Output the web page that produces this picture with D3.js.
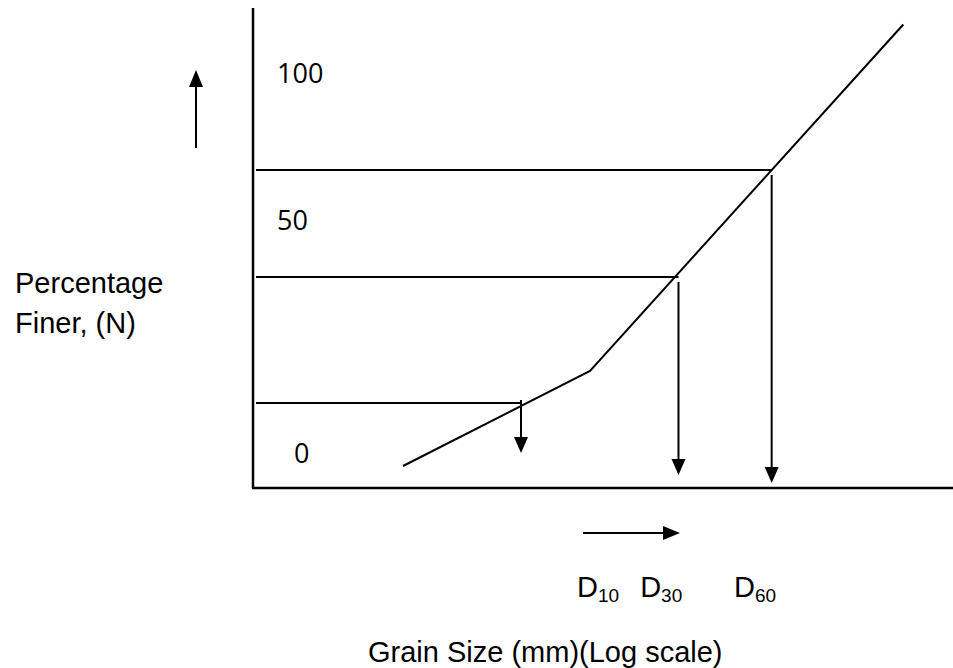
<!DOCTYPE html>
<html lang="en">
<head>
  <meta charset="UTF-8">
  <title>Grain Size Distribution Curve</title>
  <script src="https://d3js.org/d3.v7.min.js"></script>
  <style>
    body { margin: 0; background: #fff; }
    svg { display: block; }
  </style>
</head>
<body>
  <svg width="953" height="668"></svg>
  <script>
    // grading curve vertices: grain size (mm, log axis) and percent finer
    const curveSize = [0.0072, 0.0843, 5.2];
    const curveFiner = [-2.6, 15.1, 120];

    // characteristic diameters D10, D30, D60
    const dNames = ["10", "30", "60"];
    const dSize = [0.034, 0.27, 0.92];
    const dFiner = [10, 30, 60];
    const dArrowEnd = [0, -4.4, -6];
    const dLabelSize = [0.071, 0.163, 0.56];

    // y tick labels
    const tickValues = [100, 50, 0];
    const tickLabels = ["100", "50", "0"];

    const width = 953;
    const height = 668;
    const axisX = 253, axisY = 488, axisTop = 8;
    const font = "'Liberation Sans', Arial, sans-serif";

    const svg = d3.select("svg");

    const x = d3.scaleLog()
      .domain([0.001, 10])
      .range([axisX, width]);

    // schematic (not to scale) vertical axis
    const y = d3.scaleLinear()
      .domain([0, 10, 30, 50, 60, 100])
      .range([453, 403, 277, 220, 170, 73]);

    // axes
    svg.append("line")
      .attr("x1", axisX).attr("x2", axisX)
      .attr("y1", axisTop).attr("y2", axisY)
      .attr("stroke", "#000").attr("stroke-width", 2.5);
    svg.append("line")
      .attr("x1", axisX - 1).attr("x2", width)
      .attr("y1", axisY).attr("y2", axisY)
      .attr("stroke", "#000").attr("stroke-width", 2.5);

    // horizontal guide lines from the axis to each D point
    svg.append("g")
      .selectAll("line")
      .data(dSize)
      .join("line")
      .attr("x1", axisX + 3)
      .attr("x2", d => x(d))
      .attr("y1", (d, i) => y(dFiner[i]))
      .attr("y2", (d, i) => y(dFiner[i]))
      .attr("stroke", "#000")
      .attr("stroke-width", 2);

    // grading curve
    const pts = curveSize.map((s, i) => [s, curveFiner[i]]);
    svg.append("path")
      .datum(pts)
      .attr("fill", "none")
      .attr("stroke", "#000")
      .attr("stroke-width", 2)
      .attr("d", d3.line().x(d => x(d[0])).y(d => y(d[1])));

    // down arrows to the size axis
    const head = 16, half = 7;
    const arrows = svg.append("g")
      .selectAll("g")
      .data(dSize)
      .join("g");
    arrows.append("line")
      .attr("x1", d => x(d)).attr("x2", d => x(d))
      .attr("y1", (d, i) => y(dFiner[i]) + (i === 0 ? -3 : 5))
      .attr("y2", (d, i) => y(dArrowEnd[i]) - head + 2)
      .attr("stroke", "#000")
      .attr("stroke-width", 2);
    arrows.append("path")
      .attr("d", (d, i) => {
        const xt = x(d), yt = y(dArrowEnd[i]);
        return `M${xt - half},${yt - head}L${xt + half},${yt - head}L${xt},${yt}Z`;
      })
      .attr("fill", "#000");

    // tick labels
    svg.append("g")
      .selectAll("text")
      .data(tickValues)
      .join("text")
      .attr("x", d => d === 0 ? 294 : 277)
      .attr("y", d => y(d))
      .attr("dy", "0.36em")
      .attr("font-family", "'Open Sans', sans-serif")
      .attr("font-size", 27)
      .text((d, i) => tickLabels[i]);

    // D labels with subscripts
    const dl = svg.append("g")
      .selectAll("text")
      .data(dLabelSize)
      .join("text")
      .attr("x", d => x(d))
      .attr("y", 597)
      .attr("font-family", font)
      .attr("font-size", 29);
    dl.append("tspan").text("D");
    dl.append("tspan")
      .attr("font-size", 19)
      .attr("dy", 5)
      .text((d, i) => dNames[i]);

    // direction arrows
    svg.append("line")
      .attr("x1", 196).attr("x2", 196)
      .attr("y1", 148).attr("y2", 84)
      .attr("stroke", "#000").attr("stroke-width", 2);
    svg.append("path")
      .attr("d", "M189,87L203,87L196,70Z")
      .attr("fill", "#000");
    svg.append("line")
      .attr("x1", 583).attr("x2", 666)
      .attr("y1", 533).attr("y2", 533)
      .attr("stroke", "#000").attr("stroke-width", 2);
    svg.append("path")
      .attr("d", "M663,526L663,540L680,533Z")
      .attr("fill", "#000");

    // axis titles
    const yt = svg.append("text")
      .attr("font-family", font)
      .attr("font-size", 29);
    yt.append("tspan").attr("x", 15).attr("y", 293).text("Percentage");
    yt.append("tspan").attr("x", 15).attr("y", 333).text("Finer, (N)");

    svg.append("text")
      .attr("x", 368)
      .attr("y", 662)
      .attr("font-family", font)
      .attr("font-size", 29)
      .text("Grain Size (mm)(Log scale)");
  </script>
</body>
</html>
